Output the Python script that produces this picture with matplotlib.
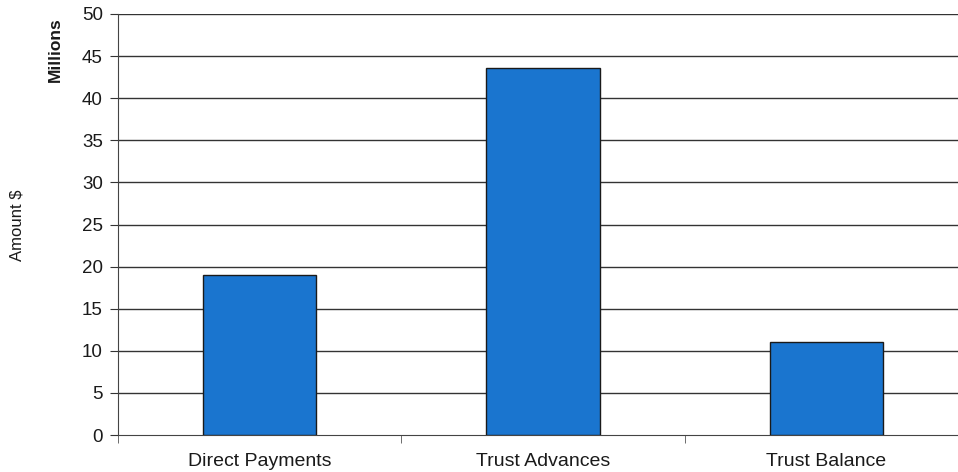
import matplotlib
matplotlib.use("Agg")
import matplotlib.pyplot as plt
from matplotlib.ticker import FixedLocator

categories = ["Direct Payments", "Trust Advances", "Trust Balance"]
values = [19.0, 43.6, 11.0]
yticks = [0, 5, 10, 15, 20, 25, 30, 35, 40, 45, 50]

plt.rcParams['font.family'] = ['Liberation Sans', 'DejaVu Sans']

fig = plt.figure(figsize=(9.58, 4.72), dpi=100)
W, H = 958, 472
ax = fig.add_axes([118 / W, (H - 435) / H, 850 / W, (435 - 14) / H])

x = list(range(len(categories)))
ax.bar(x, values, width=0.4, color="#1a75cf", edgecolor="#1a1a1a", linewidth=1.0, zorder=3)

ax.set_xlim(-0.5, len(categories) - 0.5)
ax.set_ylim(0, 50)
ax.set_yticks(yticks)
ax.set_yticklabels([str(v) for v in yticks], fontsize=13.5, color="#1a1a1a")
ax.set_xticks(x)
ax.set_xticklabels(categories, fontsize=14, color="#1a1a1a")
ax.tick_params(axis='x', which='major', length=0, pad=13)
ax.xaxis.set_minor_locator(FixedLocator([-0.5, 0.5, 1.5, 2.5]))
ax.tick_params(axis='x', which='minor', length=6, direction='out', color="#555555")
ax.tick_params(axis='y', length=6, direction='out', color="#333333", pad=5)

for v in yticks[1:]:
    ax.axhline(v, color="#333333", linewidth=1.0, zorder=1)

for s in ['top', 'right']:
    ax.spines[s].set_visible(False)
ax.spines['left'].set_color("#444444")
ax.spines['bottom'].set_color("#444444")

fig.text(17 / W, 1 - 225 / H, "Amount $", rotation=90, ha='center', va='center', fontsize=12, color="#1a1a1a")
fig.text(55 / W, 1 - 50 / H, "Millions", rotation=90, ha='center', va='center', fontsize=12.5, fontweight='bold', color="#1a1a1a")

fig.savefig("out.png", dpi=100)
